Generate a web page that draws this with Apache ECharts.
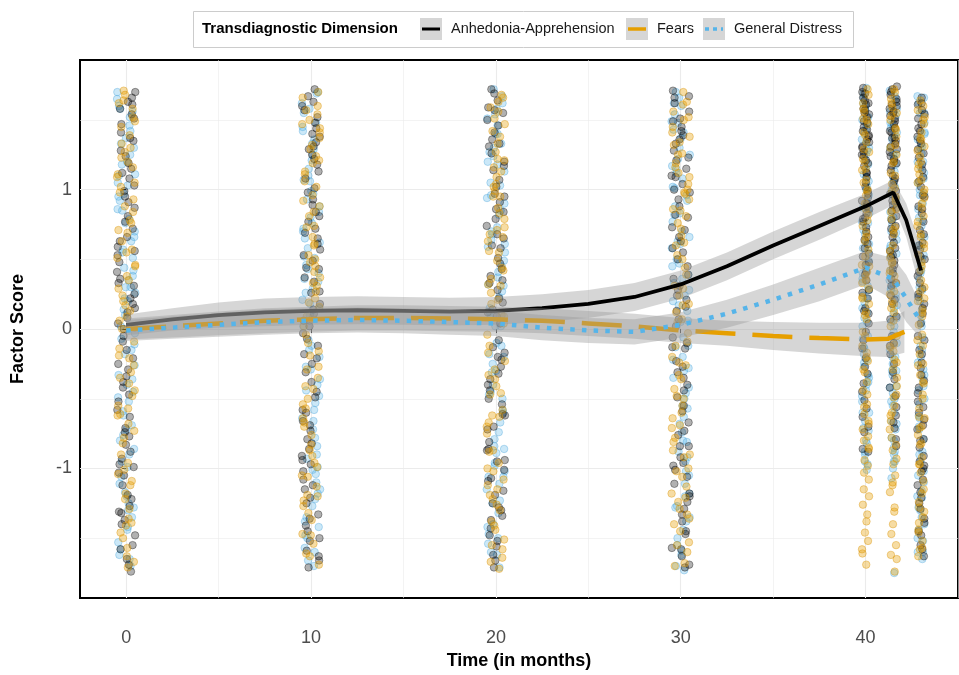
<!DOCTYPE html>
<html>
<head>
<meta charset="utf-8">
<script src="https://cdn.jsdelivr.net/npm/echarts@6/dist/echarts.min.js"></script>
<style>html,body{margin:0;padding:0;background:#fff;}#chart{width:959px;height:675px;}</style>
</head>
<body>
<div id="chart"></div>
<script>
// ---------- DATA ----------
var timePoints = [0, 10, 20, 30, 40, 41.5, 43];
var jitterSpread = [0.5, 0.5, 0.5, 0.5, 0.2, 0.2, 0.2];
var jitter = [0.62,-0.35,0.91,-0.78,0.14,-0.06,0.47,-0.93,0.28,0.83,-0.52,0.05,-0.24,0.71,-0.67,0.39,-0.88,0.96,-0.13,0.21,-0.44,0.57,-0.99,0.33,0.78,-0.61,0.09,-0.29,0.87,-0.72,0.45,-0.17,0.66,-0.84,0.18,-0.4,0.94,-0.56,0.02,0.51,-0.91,0.26,-0.09,0.74,-0.65,0.37,-0.21,0.85,-0.47,0.12,
  -0.58,0.31,-0.83,0.69,-0.12,0.98,-0.37,0.16,-0.74,0.54,-0.03,0.89,-0.49,0.24,-0.96,0.6,-0.27,0.81,-0.69,0.07,0.43,-0.86,0.72,-0.15,0.35,-0.53,0.92,-0.32,0.19,-0.8];

var anhedoniaY = [
 [1.66,-0.42,0.87,-1.31,0.12,1.24,-0.88,0.53,-1.69,0.31,1.47,-0.15,-1.05,0.72,1.58,-0.63,0.04,-1.48,0.95,-0.29,1.12,-1.22,0.41,-0.77,1.35,-1.58,0.66,-0.05,1.03,-0.97,0.22,-1.37,1.61,-0.52,0.81,-1.12,0.15,1.41,-0.34,-1.74,0.59,1.19,-0.71,-0.21,0.36,-1.27,0.99,1.51,-0.93,0.08,
  1.28,-0.47,0.33,-1.55,0.77,1.7,-0.09,-1.19,0.48,1.15,-0.83,0.25,-1.4,0.91,-0.58,1.54,0.0,-0.99,0.63,-1.65,1.37,-0.25,0.18,-0.74,1.08,-1.32,0.56,-0.38,1.63,-1.03],
 [-0.38,1.29,0.61,-1.15,1.72,-0.66,0.18,-1.52,0.93,-0.07,1.44,-0.91,0.34,-1.33,1.08,-0.25,0.77,-1.66,1.57,-0.49,0.02,1.18,-1.02,0.49,-0.79,1.38,-1.41,0.26,0.84,-0.58,1.63,-1.21,-0.12,0.69,1.01,-0.86,0.43,-1.59,1.25,-0.31,0.11,-1.08,1.52,-0.69,0.57,-1.45,0.89,-0.18,1.34,-0.97,
  0.81,-1.25,0.14,1.6,-0.45,-1.71,1.13,0.37,-0.82,1.48,-0.03,0.65,-1.36,1.22,-0.6,0.27,1.67,-1.12,0.53,-0.21,0.98,-1.5,0.06,1.4,-0.73,0.72,-0.94,1.31,-1.63,0.44],
 [0.74,-1.28,1.55,-0.36,0.09,-1.62,1.17,-0.81,0.47,1.69,-0.54,-1.09,0.28,1.36,-0.17,-1.43,0.86,0.58,-0.72,1.46,-1.19,0.19,-0.44,1.07,-1.71,0.65,1.26,-0.95,0.38,-0.08,1.59,-1.34,0.97,-0.62,0.14,-1.52,1.31,-0.27,0.79,-1.01,1.72,0.51,-0.87,-0.22,1.14,-1.16,0.33,-1.56,0.91,-0.4,
  -0.61,1.41,0.22,-1.37,0.95,-0.13,1.64,-0.86,0.43,-1.25,1.2,-0.5,0.68,-1.66,0.04,1.5,-0.32,0.84,-1.07,1.02,-0.7,0.35,-1.48,1.33,0.12,-0.94,1.57,-0.2,0.6,-1.3],
 [1.71,-0.59,0.24,-1.18,1.09,0.63,-1.47,-0.13,1.39,-0.84,0.45,1.62,-1.29,0.07,-0.67,1.21,-1.63,0.82,-0.35,1.49,-1.06,0.31,0.98,-0.49,-1.38,1.28,0.16,-0.92,1.67,-0.23,0.55,-1.57,1.15,-0.76,0.39,-1.11,1.42,0.71,-0.06,-1.24,0.88,-0.44,1.33,-1.69,0.5,1.04,-0.98,0.21,-0.31,1.56,
  0.36,-1.33,1.51,-0.14,0.73,-0.96,1.23,0.02,-1.58,0.93,-0.4,1.66,-0.73,0.58,-1.2,1.36,-0.27,0.13,-1.45,1.1,-0.55,0.8,-1.01,1.45,0.28,-0.84,1.0,-1.71,0.66,-0.1],
 [1.73,1.52,1.64,1.38,1.45,1.21,1.58,1.09,1.31,0.97,1.69,0.86,1.17,0.73,1.42,0.61,1.02,0.48,1.27,0.35,0.92,0.22,1.55,0.11,0.79,-0.02,1.36,-0.14,0.66,-0.27,1.12,-0.39,0.54,-0.51,0.41,-0.63,0.94,-0.74,0.28,-0.86,1.61,0.15,1.48,-0.45,0.83,0.04,1.24,-0.21,0.58,-0.88,
  1.66,1.43,1.7,1.34,1.57,1.12,1.49,0.99,1.25,0.88,1.62,0.77,1.05,0.64,1.39,0.52,0.9,0.39,1.19,0.26,0.7,0.13,1.54,-0.08,0.46,-0.32,1.3,-0.57,0.8,-0.7],
 [1.74,1.61,1.47,1.68,1.33,1.55,1.19,1.41,1.06,1.27,0.94,1.72,0.81,1.14,0.69,1.51,0.56,0.99,0.43,1.37,0.31,0.87,0.18,1.22,0.07,0.74,-0.05,1.63,-0.18,0.62,-0.31,1.08,-0.42,0.49,-0.56,0.36,-0.67,0.92,-0.79,0.24,1.44,-0.12,1.29,0.53,-0.25,0.78,-0.48,1.58,-0.71,-0.84,
  1.7,1.56,1.37,1.65,1.24,1.49,1.1,1.35,0.97,1.2,0.85,1.6,0.72,1.03,0.58,1.42,0.46,0.89,0.33,1.31,0.21,0.66,0.09,1.17,-0.1,0.52,-0.36,1.53,-0.62,0.4],
 [1.42,-0.37,0.88,-1.21,0.15,1.61,-0.79,0.52,-1.58,1.06,-0.08,0.33,-1.02,1.29,-0.56,0.71,-1.39,1.51,-0.24,0.04,0.96,-1.12,1.18,-0.65,0.41,-1.48,1.35,-0.91,0.23,0.62,-0.46,1.54,-1.29,0.83,-0.15,1.09,-0.72,0.29,-1.63,1.23,-0.33,0.57,-0.98,1.44,0.11,-1.17,0.77,-0.52,1.66,-0.85,
  0.95,-0.6,1.33,-1.08,0.38,1.57,-0.28,0.68,-1.45,1.14,-0.8,0.18,-1.25,1.47,-0.42,0.86,-0.05,1.26,-1.55,0.5,-0.95,1.62,0.25,-0.69,1.02,-1.36,0.6,-0.18,1.38,-1.0]
];
var fearsY = [
 [-0.21,0.93,-1.46,0.38,1.64,-0.73,0.06,-1.12,1.27,-0.48,0.71,-1.71,0.24,1.49,-0.9,0.55,-0.31,1.11,-1.36,0.17,0.84,-0.61,1.39,-1.01,-0.09,0.63,-1.57,1.02,-0.39,0.29,1.58,-1.22,0.46,-0.82,1.2,-0.14,0.76,-1.41,0.01,1.33,-0.68,0.51,-1.09,1.71,-0.26,0.98,-1.63,0.13,-0.55,1.16,
  0.88,-1.29,1.45,-0.44,0.2,-0.96,1.62,0.57,-1.5,1.05,-0.19,0.69,-1.18,1.3,-0.62,0.35,-1.67,1.23,0.09,-0.78,1.52,-0.35,0.78,-1.04,0.45,1.68,-0.57,0.0,-1.39,1.09],
 [0.66,-1.19,1.41,-0.04,-0.83,0.27,1.66,-1.54,0.48,-0.35,1.13,-0.96,0.81,-1.69,0.09,1.32,-0.57,0.6,-1.27,1.54,-0.19,0.37,-1.06,0.96,-0.7,1.24,-1.48,0.16,0.73,-0.43,1.47,-1.13,0.53,-0.27,1.06,-1.37,0.22,-0.64,1.6,-0.87,0.41,-1.61,0.88,-0.1,1.19,-1.23,0.31,-0.5,1.37,0.02,
  -0.91,1.29,0.45,-1.47,0.84,-0.16,1.57,-0.76,0.19,-1.2,1.11,0.61,-0.54,1.44,-1.63,0.33,-0.29,1.02,-1.05,0.74,1.7,-0.41,0.07,-1.32,1.21,-0.67,0.5,1.5,-0.99,0.92],
 [-0.63,1.16,0.04,-1.38,0.71,1.59,-0.96,0.32,-1.64,0.99,-0.23,1.42,-1.15,0.56,-0.46,1.27,-1.51,0.18,0.87,-0.75,1.68,-1.02,0.42,-0.12,1.09,-1.3,0.63,-0.58,1.51,-1.72,0.26,0.79,-0.87,1.33,-0.33,0.1,-1.22,1.21,-0.67,0.49,-1.44,0.95,-0.04,1.63,-1.08,0.36,-0.41,1.02,-1.58,0.68,
  0.83,-1.12,1.47,-0.29,0.21,-1.55,1.13,-0.7,0.55,1.66,-0.47,-1.26,0.95,0.09,-0.88,1.38,-1.41,0.44,-0.17,1.22,-0.62,0.73,-1.67,1.04,0.31,-1.0,1.56,-0.36,0.66,-1.19],
 [0.53,-1.06,1.32,-0.26,0.85,-1.53,0.12,1.61,-0.71,0.39,-1.24,1.04,-0.43,0.67,-1.68,1.45,-0.09,0.24,-0.92,1.19,-1.36,0.76,-0.55,1.56,-1.13,0.05,0.93,-0.81,1.26,-1.45,0.44,-0.2,1.7,-1.0,0.6,-0.36,1.12,-1.6,0.31,0.98,-0.64,1.38,-1.29,0.17,-0.48,0.81,-1.18,1.5,-0.03,-0.78,
  -0.6,1.25,0.18,-1.4,0.97,-0.24,1.63,-0.87,0.5,-1.55,1.09,-0.12,0.72,-1.21,1.41,0.29,-0.69,1.0,-1.7,0.62,-0.33,1.52,-1.02,0.07,1.16,-0.5,0.86,-1.33,1.34,-0.9],
 [1.68,1.22,0.86,0.41,-0.12,1.47,0.63,-0.38,1.05,0.18,-0.61,1.34,0.74,-0.23,1.56,0.29,-0.72,0.96,0.52,-0.47,1.14,0.07,-0.85,1.41,0.35,-0.31,0.82,1.62,-0.54,0.23,1.27,-0.05,0.69,-0.8,1.0,0.46,-0.17,-0.66,1.51,0.12,-0.94,-1.08,-1.26,-1.33,-1.46,-1.52,-1.61,-1.69,-1.03,-1.2,
  1.58,1.15,0.78,0.33,-0.2,1.39,0.57,-0.44,0.99,0.1,-0.68,1.29,0.66,-0.29,1.5,0.22,-0.77,0.9,0.45,-0.56,1.07,-0.02,1.72,0.38,-0.86,-1.15,-1.38,-1.58,-0.98,1.2],
 [1.72,1.3,0.91,0.47,-0.05,1.5,0.68,-0.29,1.1,0.25,-0.55,1.38,0.79,-0.16,1.59,0.33,-0.66,1.01,0.56,-0.41,1.19,0.12,-0.78,1.44,0.4,-0.22,0.86,1.65,-0.49,0.2,1.25,0.02,0.73,-0.87,0.95,0.51,-0.11,-0.6,1.55,0.15,-0.97,-1.05,-1.17,-1.31,-1.4,-1.55,-1.62,-1.74,-1.12,-0.93,
  1.62,1.2,0.84,0.38,-0.13,1.43,0.6,-0.35,1.04,0.18,-0.62,1.32,0.71,-0.24,1.53,0.27,-0.72,0.93,0.48,-0.47,1.12,0.06,1.7,0.42,-0.83,-1.1,-1.28,-1.47,-1.65,0.99],
 [0.61,-0.97,1.36,-0.33,0.98,-1.46,0.14,1.57,-0.64,0.42,-1.18,1.11,-0.25,0.74,-1.57,1.47,0.03,-0.82,1.24,-1.31,0.53,-0.47,1.64,-1.09,0.2,0.87,-0.71,1.31,-1.39,0.35,-0.12,1.05,-0.92,0.66,-0.39,1.18,-1.52,0.27,0.94,-0.57,1.41,-1.24,0.09,-0.76,0.81,-1.03,1.52,-0.18,0.48,-1.63,
  -0.38,1.2,0.22,-1.28,0.9,-0.08,1.5,-0.83,0.58,-1.44,1.07,-0.5,0.77,-1.15,1.37,0.12,-0.63,1.0,-1.58,0.45,-0.26,1.6,-0.97,0.3,1.15,-0.7,0.68,-1.35,1.28,-0.04]
];
var distressY = [
 [0.44,-0.86,1.18,-1.44,0.02,0.79,-0.33,1.56,-1.17,0.26,-0.59,1.03,-1.62,0.63,1.37,-0.11,-0.95,0.35,1.7,-0.69,0.14,-1.28,0.92,-0.4,1.25,-1.53,0.51,-0.18,1.46,-1.06,0.7,-0.76,0.2,1.1,-1.35,0.57,-0.26,1.6,-0.99,0.3,-1.7,0.86,-0.52,1.3,-0.07,-1.2,0.97,0.38,-0.8,1.52,
  -0.49,1.11,0.1,-1.3,0.85,-0.15,1.65,-0.9,0.42,-1.58,1.2,-0.62,0.66,-1.11,1.42,0.22,-0.36,0.95,-1.42,0.55,-0.03,1.33,-0.72,0.3,1.05,-1.25,0.76,-0.45,1.58,-1.65],
 [-1.01,0.52,1.48,-0.29,0.15,-1.35,0.97,-0.64,1.69,-0.08,0.4,-1.57,1.21,-0.78,0.7,-1.18,0.06,1.36,-0.44,0.88,-1.66,0.29,1.07,-0.9,0.58,-0.2,1.55,-1.27,0.8,-0.53,0.21,1.29,-1.42,0.46,-0.12,1.15,-0.99,0.65,-1.6,1.42,-0.36,0.1,-0.72,0.93,-1.1,1.62,-0.58,0.34,-1.48,0.76,
  1.1,-0.48,0.36,-1.22,1.58,-0.84,0.02,1.25,-1.5,0.62,-0.27,0.99,-1.04,1.45,-0.66,0.18,1.7,-1.38,0.51,-0.15,0.84,-0.93,1.33,0.26,-1.7,0.72,-0.4,1.06,-1.15,0.43],
 [1.27,-0.1,-1.23,0.59,1.62,-0.79,0.23,-1.6,0.9,-0.4,1.4,-1.06,0.45,-0.25,1.13,-1.47,0.73,0.02,-0.67,1.51,-1.32,0.31,0.96,-0.89,1.72,-0.5,0.15,-1.71,1.2,0.61,-0.98,0.37,-0.31,1.33,-1.15,0.82,-0.6,0.08,1.58,-1.4,0.49,-0.18,1.03,-0.84,0.27,-1.54,1.46,0.68,-1.02,-0.45,
  -0.3,0.85,-1.42,0.41,1.54,-0.58,0.12,-1.11,1.3,-0.2,0.7,-1.62,1.05,-0.74,0.32,1.67,-0.96,0.55,-1.25,1.18,-0.47,0.02,1.4,-0.86,0.64,-1.5,0.94,-0.12,1.24,-1.06],
 [-0.35,0.96,-1.5,0.28,1.43,-0.74,0.61,-1.2,1.17,-0.06,0.39,-1.7,1.6,-0.88,0.13,1.01,-0.5,0.77,-1.35,1.3,-0.2,0.5,-1.02,1.49,-0.63,0.06,0.88,-1.59,1.22,-0.42,0.33,-1.11,1.66,-0.81,0.2,1.08,-1.27,0.66,-0.13,1.37,-0.95,0.45,-1.44,0.83,-0.57,1.54,-1.73,0.17,-0.28,1.12,
  0.7,-1.28,1.41,-0.22,0.92,-0.68,1.25,-1.55,0.36,1.62,-0.46,0.05,-1.05,1.15,-0.8,0.58,-1.38,1.48,-0.12,0.82,-1.62,0.24,1.02,-0.92,0.47,-0.3,1.7,-1.18,0.63,-0.55],
 [1.69,0.42,1.21,-0.33,0.87,0.05,1.5,-0.6,0.68,1.09,-0.18,0.31,1.36,-0.82,0.55,1.62,-0.44,0.19,0.96,-0.07,1.28,-0.95,0.76,0.36,1.44,-0.27,0.61,-0.71,1.15,0.12,-0.52,0.91,1.57,-0.38,0.24,1.02,-0.88,0.49,-0.13,1.33,0.71,-1.01,0.02,1.18,-0.66,0.83,-0.24,1.73,0.4,-0.97,
  1.6,0.28,1.11,-0.4,0.77,-0.05,1.41,-0.73,0.58,1.25,-0.22,0.15,1.52,-0.9,0.47,1.66,-0.35,0.08,1.0,-0.6,0.86,-0.14,1.3,0.34,-0.8,0.63,1.47,-0.48,0.22,1.06],
 [1.64,0.35,1.13,-0.41,0.79,-0.02,1.47,-0.68,0.6,1.02,-0.25,0.25,1.3,-0.9,0.48,1.58,-0.52,0.11,0.9,-0.15,1.22,-1.0,0.69,0.29,1.39,-0.33,0.54,-0.78,1.07,0.05,-0.6,0.84,1.53,-0.46,0.17,0.97,-0.85,0.42,-0.2,1.25,0.64,-1.07,-1.75,1.71,-0.72,0.75,-0.3,1.44,0.32,-0.95,
  1.56,0.22,1.05,-0.5,0.7,-0.1,1.36,-0.8,0.52,1.18,-0.3,0.08,1.48,-0.95,0.4,1.67,-0.42,0.02,0.93,-0.66,0.8,-0.2,1.26,0.28,-0.88,0.58,1.41,-0.55,0.15,1.0],
 [-0.41,1.05,-1.35,0.3,1.48,-0.7,0.59,-1.6,1.2,-0.15,0.45,-1.1,1.62,-0.88,0.1,0.97,-0.54,0.74,-1.44,1.31,-0.24,0.53,-0.95,1.41,-0.64,0.02,0.86,-1.52,1.16,-0.33,0.36,-1.21,1.67,-0.79,0.2,1.12,-1.28,0.67,-0.06,1.36,-1.02,0.4,-1.65,0.8,-0.5,1.55,-1.16,0.23,-0.29,1.0,
  0.66,-1.05,1.26,-0.2,0.9,-1.5,0.14,1.55,-0.72,0.42,-1.3,1.08,-0.44,0.78,-1.6,1.4,-0.12,0.5,-0.9,1.2,-1.2,0.28,1.66,-0.62,0.05,0.96,-1.4,0.6,-0.36,1.3]
];

// smoothed trends (loess) with confidence half-widths
var smoothT      = [0,2.5,5,7.5,10,12.5,15,17.5,20,22.5,25,27.5,30,32.5,35,37.5,40,41.5,42.2,43];
var anhedoniaFit = [0.03,0.07,0.10,0.12,0.13,0.135,0.13,0.125,0.13,0.15,0.18,0.23,0.32,0.45,0.60,0.74,0.88,0.98,0.78,0.42];
var anhedoniaSE  = [0.075,0.08,0.09,0.10,0.10,0.10,0.10,0.10,0.10,0.10,0.10,0.10,0.10,0.10,0.10,0.10,0.09,0.09,0.12,0.16];
var distressFit  = [-0.01,0.01,0.03,0.05,0.06,0.065,0.06,0.05,0.04,0.01,-0.01,-0.02,0.03,0.11,0.21,0.32,0.44,0.36,0.22,0.05];
var distressSE   = [0.075,0.08,0.085,0.09,0.09,0.09,0.09,0.09,0.09,0.09,0.09,0.09,0.09,0.10,0.11,0.12,0.12,0.15,0.17,0.12];
var fearsT       = [0,2.5,5,7.5,10,12.5,15,17.5,20,22.5,25,27.5,30,32.5,35,37.5,40,41.2,42.1];
var fearsFit     = [0.0,0.02,0.04,0.06,0.07,0.08,0.08,0.075,0.07,0.06,0.04,0.02,-0.01,-0.03,-0.05,-0.065,-0.075,-0.07,-0.02];
var fearsSE      = [0.075,0.08,0.085,0.09,0.09,0.09,0.09,0.09,0.09,0.09,0.09,0.09,0.09,0.09,0.10,0.11,0.12,0.13,0.15];

var xTicks = [0, 10, 20, 30, 40];
var yTicks = [-1, 0, 1];
var xGridMajor = [0, 10, 20, 30, 40];
var xGridMinor = [5, 15, 25, 35, 45];
var yGridMajor = [-1, 0, 1];
var yGridMinor = [-1.5, -0.5, 0.5, 1.5];

var seriesNames = ['Anhedonia-Apprehension', 'Fears', 'General Distress'];

// ---------- BUILD ----------
function buildPoints(ys, s) {
  var pts = [];
  for (var k = 0; k < timePoints.length; k++) {
    for (var i = 0; i < ys[k].length; i++) {
      var j = jitter[(i + 23 * s + 11 * k) % jitter.length];
      pts.push([timePoints[k] + j * jitterSpread[k], ys[k][i]]);
    }
  }
  return pts;
}
function bandSeries(name, ts, fit, se, z) {
  var upper = [], lower = [];
  for (var i = 0; i < ts.length; i++) { upper.push([ts[i], fit[i] + se[i]]); lower.push([ts[i], fit[i] - se[i]]); }
  return {
    name: name + ' band', type: 'custom', z: z, silent: true,
    data: [[0, 0]],
    renderItem: function (params, api) {
      var pts = [];
      for (var i = 0; i < upper.length; i++) pts.push(api.coord(upper[i]));
      for (var i2 = lower.length - 1; i2 >= 0; i2--) pts.push(api.coord(lower[i2]));
      return { type: 'polygon', shape: { points: pts }, style: { fill: 'rgba(153,153,153,0.4)', stroke: null } };
    }
  };
}
function lineData(ts, fit) { var d = []; for (var i = 0; i < ts.length; i++) d.push([ts[i], fit[i]]); return d; }

var gridLineData = [];
xGridMajor.forEach(function (v) { gridLineData.push({ xAxis: v, lineStyle: { width: 1.1 } }); });
xGridMinor.forEach(function (v) { gridLineData.push({ xAxis: v, lineStyle: { width: 0.6 } }); });
yGridMajor.forEach(function (v) { gridLineData.push({ yAxis: v, lineStyle: { width: 1.1 } }); });
yGridMinor.forEach(function (v) { gridLineData.push({ yAxis: v, lineStyle: { width: 0.6 } }); });

var chart = echarts.init(document.getElementById('chart'), null, { renderer: 'canvas' });
var FONT = '"Liberation Sans", Arial, Helvetica, sans-serif';

var option = {
  animation: false,
  backgroundColor: '#ffffff',
  grid: { left: 80, right: 1, top: 60, bottom: 75, show: true, borderColor: '#000', borderWidth: 2, backgroundColor: 'transparent' },
  xAxis: {
    type: 'value', min: -2.5, max: 45,
    name: 'Time (in months)', nameLocation: 'middle', nameGap: 51,
    nameTextStyle: { fontFamily: FONT, fontWeight: 'bold', fontSize: 18, color: '#000' },
    axisLine: { show: false },
    axisTick: { show: true, customValues: xTicks, length: 4, lineStyle: { color: '#333', width: 1 } },
    axisLabel: { customValues: xTicks, margin: 31, fontFamily: FONT, fontSize: 18, color: '#4D4D4D' },
    splitLine: { show: false }
  },
  yAxis: {
    type: 'value', min: -1.93, max: 1.93,
    name: 'Factor Score', nameLocation: 'middle', nameGap: 53, nameRotate: 90,
    nameTextStyle: { fontFamily: FONT, fontWeight: 'bold', fontSize: 18, color: '#000' },
    axisLine: { show: false },
    axisTick: { show: true, customValues: yTicks, length: 4, lineStyle: { color: '#333', width: 1 } },
    axisLabel: { customValues: yTicks, margin: 8, fontFamily: FONT, fontSize: 18, color: '#4D4D4D' },
    splitLine: { show: false }
  },
  series: [
    { name: 'grid', type: 'line', data: [], z: 0, silent: true,
      markLine: { silent: true, z: 0, symbol: 'none', label: { show: false }, animation: false,
        lineStyle: { color: '#EBEBEB', type: 'solid' }, data: gridLineData } },
    { name: seriesNames[2] + ' pts', type: 'scatter', z: 1, symbol: 'circle', symbolSize: 7.5, silent: true,
      data: buildPoints(distressY, 2),
      itemStyle: { color: 'rgba(86,180,233,0.38)', borderColor: 'rgba(70,160,215,0.55)', borderWidth: 0.8 } },
    { name: seriesNames[0] + ' pts', type: 'scatter', z: 1, symbol: 'circle', symbolSize: 7.5, silent: true,
      data: buildPoints(anhedoniaY, 0),
      itemStyle: { color: 'rgba(0,0,0,0.38)', borderColor: 'rgba(0,0,0,0.55)', borderWidth: 0.8 } },
    { name: seriesNames[1] + ' pts', type: 'scatter', z: 1, symbol: 'circle', symbolSize: 7.5, silent: true,
      data: buildPoints(fearsY, 1),
      itemStyle: { color: 'rgba(230,159,0,0.45)', borderColor: 'rgba(215,145,0,0.6)', borderWidth: 0.8 } },

    bandSeries(seriesNames[0], smoothT, anhedoniaFit, anhedoniaSE, 3),
    { name: seriesNames[0], type: 'line', z: 4, data: lineData(smoothT, anhedoniaFit), showSymbol: false, symbol: 'none', silent: true,
      lineStyle: { color: '#000', width: 3.8, type: 'solid' } },
    bandSeries(seriesNames[1], fearsT, fearsFit, fearsSE, 5),
    { name: seriesNames[1], type: 'line', z: 6, data: lineData(fearsT, fearsFit), showSymbol: false, symbol: 'none', silent: true,
      lineStyle: { color: '#E69F00', width: 4.5, type: [40, 17], cap: 'butt' } },
    bandSeries(seriesNames[2], smoothT, distressFit, distressSE, 7),
    { name: seriesNames[2], type: 'line', z: 8, data: lineData(smoothT, distressFit), showSymbol: false, symbol: 'none', silent: true,
      lineStyle: { color: '#56B4E9', width: 4.5, type: [4.5, 7.2], cap: 'butt' } }
  ],
  graphic: [
    { type: 'rect', left: 193, top: 11, shape: { width: 660, height: 36 }, style: { fill: '#fff', stroke: '#CCCCCC', lineWidth: 1 }, z: 10 },
    { type: 'text', left: 202, top: 21, style: { text: 'Transdiagnostic Dimension', font: 'bold 15px ' + FONT, fill: '#000' }, z: 11 },
    { type: 'rect', left: 420, top: 18, shape: { width: 22, height: 22 }, style: { fill: '#D6D6D6' }, z: 11 },
    { type: 'line', shape: { x1: 422, y1: 29, x2: 440, y2: 29 }, style: { stroke: '#000', lineWidth: 3 }, z: 12 },
    { type: 'text', left: 451, top: 21, style: { text: seriesNames[0], font: '14.5px ' + FONT, fill: '#1a1a1a' }, z: 11 },
    { type: 'rect', left: 626, top: 18, shape: { width: 22, height: 22 }, style: { fill: '#D6D6D6' }, z: 11 },
    { type: 'line', shape: { x1: 628, y1: 29, x2: 646, y2: 29 }, style: { stroke: '#E69F00', lineWidth: 3.5 }, z: 12 },
    { type: 'text', left: 657, top: 21, style: { text: seriesNames[1], font: '14.5px ' + FONT, fill: '#1a1a1a' }, z: 11 },
    { type: 'rect', left: 703, top: 18, shape: { width: 22, height: 22 }, style: { fill: '#D6D6D6' }, z: 11 },
    { type: 'line', shape: { x1: 705, y1: 29, x2: 723, y2: 29 }, style: { stroke: '#56B4E9', lineWidth: 3.5, lineDash: [4, 4] }, z: 12 },
    { type: 'text', left: 734, top: 21, style: { text: seriesNames[2], font: '14.5px ' + FONT, fill: '#1a1a1a' }, z: 11 }
  ]
};
chart.setOption(option);
</script>
</body>
</html>
